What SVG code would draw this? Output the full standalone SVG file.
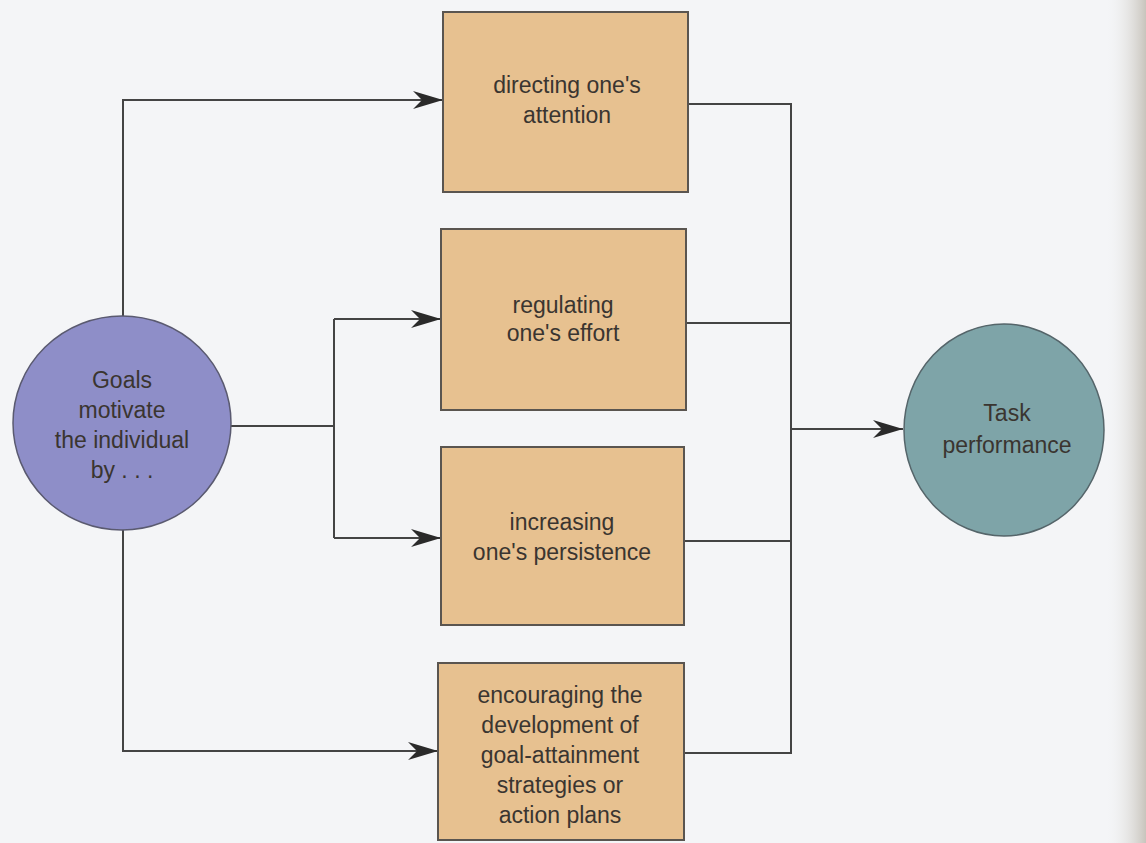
<svg xmlns="http://www.w3.org/2000/svg" width="1146" height="843" viewBox="0 0 1146 843">
<defs>
<style>
.bg{fill:#f4f5f7}
.box{fill:#e7c190;stroke:#5a5550;stroke-width:2}
.goal{fill:#8e8ec8;stroke:#5a5a70;stroke-width:1.5}
.task{fill:#7ea4a8;stroke:#55656a;stroke-width:1.5}
.ln{fill:none;stroke:#444;stroke-width:2}
text{font-family:"Liberation Sans",Arial,sans-serif;font-size:23px;fill:#3a3530;text-anchor:middle}
</style>
<marker id="ah" markerUnits="userSpaceOnUse" markerWidth="30" markerHeight="20" refX="30" refY="10" orient="auto" viewBox="0 0 30 20">
<path d="M0,1 L30,10 L0,19 L9,10 z" fill="#2a2a2a"/>
</marker>
<linearGradient id="edge" x1="0" y1="0" x2="1" y2="0">
<stop offset="0" stop-color="#f4f5f7" stop-opacity="0"/>
<stop offset="1" stop-color="#c8c4bc"/>
</linearGradient>
</defs>
<rect class="bg" x="0" y="0" width="1146" height="843"/>
<rect x="1105" y="0" width="41" height="843" fill="url(#edge)"/>
<g id="connectors">
<path class="ln" d="M123,316 V100 H443" marker-end="url(#ah)"/>
<path class="ln" d="M231,426 H334"/>
<path class="ln" d="M334,319 V538"/>
<path class="ln" d="M334,319 H441" marker-end="url(#ah)"/>
<path class="ln" d="M334,538 H441" marker-end="url(#ah)"/>
<path class="ln" d="M123,530 V751 H438" marker-end="url(#ah)"/>
<path class="ln" d="M688,104 H791 V753 H684"/>
<path class="ln" d="M686,323 H791"/>
<path class="ln" d="M684,541 H791"/>
<path class="ln" d="M791,429 H903" marker-end="url(#ah)"/>
</g>
<g id="goals">
<ellipse class="goal" cx="122" cy="423" rx="109" ry="107"/>
<text x="122" y="388">Goals</text>
<text x="122" y="418">motivate</text>
<text x="122" y="448">the individual</text>
<text x="122" y="478">by . . .</text>
</g>
<g id="attention">
<rect class="box" x="443" y="12" width="245" height="180"/>
<text x="567" y="93">directing one's</text>
<text x="567" y="123">attention</text>
</g>
<g id="effort">
<rect class="box" x="441" y="229" width="245" height="181"/>
<text x="563" y="313">regulating</text>
<text x="563" y="341">one's effort</text>
</g>
<g id="persistence">
<rect class="box" x="441" y="447" width="243" height="178"/>
<text x="562" y="530">increasing</text>
<text x="562" y="560">one's persistence</text>
</g>
<g id="strategies">
<rect class="box" x="438" y="663" width="246" height="177"/>
<text x="560" y="703">encouraging the</text>
<text x="560" y="733">development of</text>
<text x="560" y="763">goal-attainment</text>
<text x="560" y="793">strategies or</text>
<text x="560" y="823">action plans</text>
</g>
<g id="task">
<ellipse class="task" cx="1004" cy="430" rx="100" ry="106"/>
<text x="1007" y="421">Task</text>
<text x="1007" y="453">performance</text>
</g>
</svg>
